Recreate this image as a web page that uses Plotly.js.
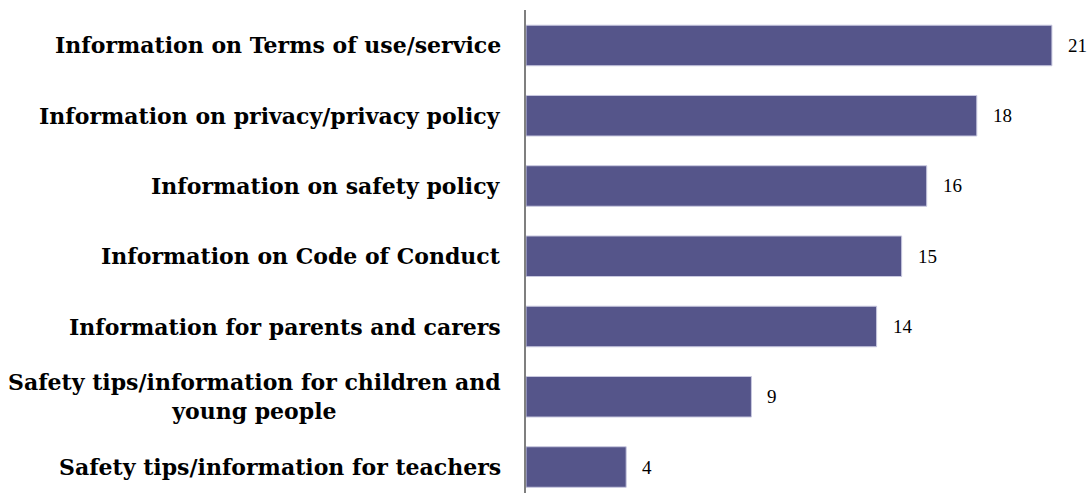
<!DOCTYPE html>
<html>
<head>
<meta charset="utf-8">
<script src="https://cdn.plot.ly/plotly-3.0.1.min.js"></script>
<style>
  html, body { margin: 0; padding: 0; background: #ffffff; }
  #chart { width: 1092px; height: 493px; }
</style>
</head>
<body>
<div id="chart"></div>
<script>
// Data
var categories = [
  "Information on Terms of use/service",
  "Information on privacy/privacy policy",
  "Information on safety policy",
  "Information on Code of Conduct",
  "Information for parents and carers",
  "Safety tips/information for children and<br>young people",
  "Safety tips/information for teachers"
];
var values = [21, 18, 16, 15, 14, 9, 4];

var barColor = "#55558A";
var labelFont = "'DejaVu Serif', 'Liberation Serif', serif";
var valueFont = "'Liberation Serif', 'DejaVu Serif', serif";

var trace = {
  type: "bar",
  orientation: "h",
  x: values,
  y: categories,
  marker: { color: barColor, line: { color: "#c9c9e0", width: 1 } },
  width: 0.577,
  hoverinfo: "x+y"
};

var annotations = [];
categories.forEach(function (c, i) {
  annotations.push({
    xref: "paper", yref: "y",
    x: 0, y: c,
    xanchor: "right", yanchor: "middle",
    xshift: -23,
    align: "center",
    text: "<b>" + c + "</b>",
    showarrow: false,
    font: { family: labelFont, size: 22, color: "#000000" }
  });
  annotations.push({
    xref: "x", yref: "y",
    x: values[i], y: c,
    xanchor: "left", yanchor: "middle",
    xshift: 14,
    text: String(values[i]),
    showarrow: false,
    font: { family: valueFont, size: 19, color: "#000000" }
  });
});

var layout = {
  width: 1092,
  height: 493,
  margin: { l: 526, r: 0, t: 10, b: 0 },
  paper_bgcolor: "#ffffff",
  plot_bgcolor: "#ffffff",
  showlegend: false,
  bargap: 0.42,
  xaxis: {
    range: [0, 22.6],
    showgrid: false,
    zeroline: false,
    showline: false,
    showticklabels: false,
    ticks: ""
  },
  yaxis: {
    type: "category",
    range: [6.37, -0.505],
    showgrid: false,
    zeroline: false,
    showline: true,
    linecolor: "#7f7f7f",
    linewidth: 2,
    showticklabels: false,
    ticks: ""
  },
  annotations: annotations
};

Plotly.newPlot("chart", [trace], layout, { displayModeBar: false, staticPlot: true });
</script>
</body>
</html>
